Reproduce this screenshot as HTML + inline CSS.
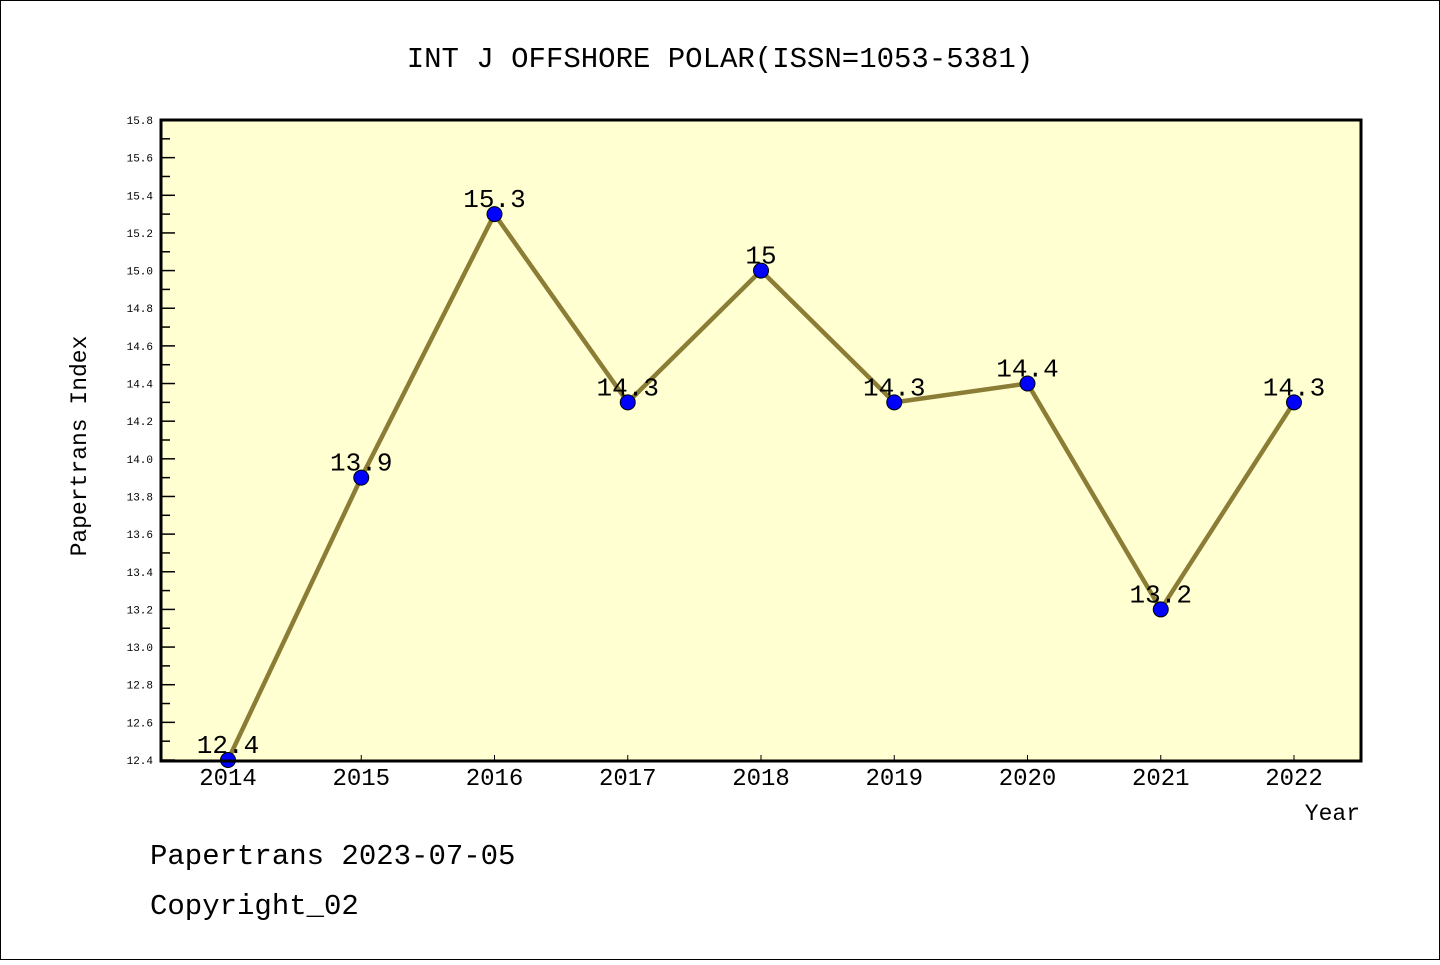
<!DOCTYPE html>
<html><head><meta charset="utf-8"><style>
html,body{margin:0;padding:0;background:#fff;}
svg text{font-family:"Liberation Mono","WenQuanYi Zen Hei",monospace;fill:#000;}
</style></head><body>
<svg width="1440" height="960" xmlns="http://www.w3.org/2000/svg">
<rect x="0.5" y="0.5" width="1439" height="959" fill="#fff" stroke="#000"/>
<text x="720" y="67" font-size="29" text-anchor="middle">INT J OFFSHORE POLAR(ISSN=1053-5381)</text>
<rect x="161" y="120" width="1200" height="641" fill="#ffffd2"/>
<g id="yaxis"></g>
<g id="xaxis"></g>
<g id="series"></g>
<rect x="161" y="120" width="1200" height="641" fill="none" stroke="#000" stroke-width="3"/>
<text x="86" y="446" font-size="23" text-anchor="middle" transform="rotate(-90 86 446)">Papertrans Index</text>
<text x="1360" y="820" font-size="23" text-anchor="end">Year</text>
<text x="150" y="864" font-size="29">Papertrans 2023-07-05</text>
<text x="150" y="914" font-size="29">Copyright_02</text>
</svg>
<script>
const years = ["2014","2015","2016","2017","2018","2019","2020","2021","2022"];
const values = [12.4, 13.9, 15.3, 14.3, 15.0, 14.3, 14.4, 13.2, 14.3];
const valueLabels = ["12.4","13.9","15.3","14.3","15","14.3","14.4","13.2","14.3"];
const yTicks = ["12.4","12.6","12.8","13.0","13.2","13.4","13.6","13.8","14.0","14.2","14.4","14.6","14.8","15.0","15.2","15.4","15.6","15.8"];
(function(){
const NS="http://www.w3.org/2000/svg";
const yMin=12.4,yMax=15.8,pTop=120,pBot=760,pLeft=161;
const yS=v=>pBot-(v-yMin)/(yMax-yMin)*(pBot-pTop);
const xS=i=>228+i*133.25;
function mk(tag,attrs,parent){const e=document.createElementNS(NS,tag);for(const k in attrs)e.setAttribute(k,attrs[k]);parent.appendChild(e);return e;}
const ya=document.getElementById('yaxis'),xa=document.getElementById('xaxis'),sg=document.getElementById('series');
yTicks.forEach((t,i)=>{
  const y=yS(parseFloat(t));
  const l=mk('line',{x1:pLeft,x2:pLeft+14,y1:y,y2:y,stroke:'#000','stroke-width':1.5},ya);
  
  
  const tx=mk('text',{x:153,y:y+4,'font-size':11,'text-anchor':'end'},ya);
  tx.textContent=t;
  
  
  if(i<yTicks.length-1){
    const ym=yS(parseFloat(t)+0.1);
    const m=mk('line',{x1:pLeft,x2:pLeft+9,y1:ym,y2:ym,stroke:'#000','stroke-width':1.5},ya);
    
    
  }
});
years.forEach((yr,i)=>{
  const x=xS(i);
  const l=mk('line',{x1:x,x2:x,y1:761,y2:755,stroke:'#000','stroke-width':1},xa);
  
  
  const t=mk('text',{x:x,y:785,'font-size':24,'text-anchor':'middle'},xa);
  t.textContent=yr;
  
  
});
const pts=values.map((v,i)=>xS(i)+','+yS(v)).join(' ');
const pl=mk('polyline',{points:pts,fill:'none',stroke:'#8b7d35','stroke-width':4.5,'stroke-linejoin':'round'},sg);


values.forEach((v,i)=>{
  const c=mk('circle',{cx:xS(i),cy:yS(v),r:7.5,fill:'#0000ff',stroke:'#000','stroke-width':1},sg);
  
  
  const t=mk('text',{x:xS(i),y:yS(v)-7,'font-size':26,'text-anchor':'middle'},sg);
  t.textContent=valueLabels[i];
  
  
});
})();
</script>
</body></html>
